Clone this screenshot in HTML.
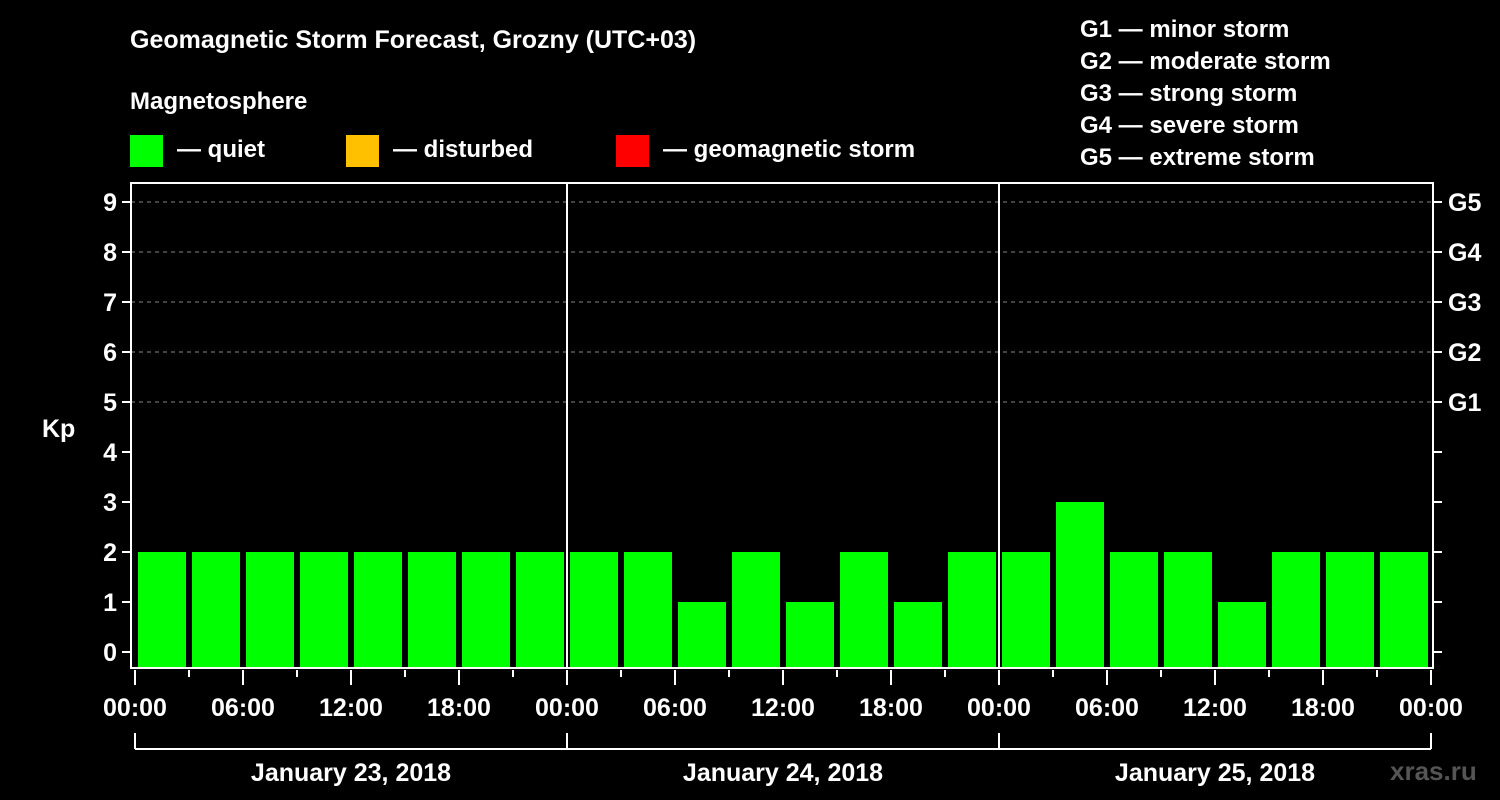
<!DOCTYPE html>
<html><head><meta charset="utf-8"><style>
html,body{margin:0;padding:0;background:#000;}
svg{display:block;font-family:"Liberation Sans",Arial,sans-serif;font-weight:bold;}
</style></head><body>
<svg id="chart" width="1500" height="800" viewBox="0 0 1500 800">
<rect width="1500" height="800" fill="#000"/>
<text x="130" y="48" fill="#fff" font-size="25">Geomagnetic Storm Forecast, Grozny (UTC+03)</text>
<text x="130" y="109" fill="#fff" font-size="24">Magnetosphere</text>
<g><rect x="130" y="135" width="33" height="32" fill="#00ff00"/><text x="177" y="157" fill="#fff" font-size="24">— quiet</text></g>
<g><rect x="346" y="135" width="33" height="32" fill="#ffc000"/><text x="393" y="157" fill="#fff" font-size="24">— disturbed</text></g>
<g><rect x="616" y="135" width="33" height="32" fill="#ff0000"/><text x="663" y="157" fill="#fff" font-size="24">— geomagnetic storm</text></g>
<g fill="#fff" font-size="24">
<text x="1080" y="37">G1 — minor storm</text>
<text x="1080" y="69">G2 — moderate storm</text>
<text x="1080" y="101">G3 — strong storm</text>
<text x="1080" y="133">G4 — severe storm</text>
<text x="1080" y="165">G5 — extreme storm</text>
</g>
<g id="grid"></g>
<g id="bars"></g>
<g id="axes"></g>
<text x="1390" y="780" fill="#555" font-size="26">xras.ru</text>
</svg>
<script>
const kpValues=[2,2,2,2,2,2,2,2, 2,2,1,2,1,2,1,2, 2,3,2,2,1,2,2,2];
const yTicks=[0,1,2,3,4,5,6,7,8,9];
const gLabels=["G1","G2","G3","G4","G5"];
const xTickLabels=["00:00","06:00","12:00","18:00","00:00","06:00","12:00","18:00","00:00","06:00","12:00","18:00","00:00"];
const dayLabels=["January 23, 2018","January 24, 2018","January 25, 2018"];
const NS="http://www.w3.org/2000/svg";
const L=131,R=1433,T=183,B=668,X0=135,SLOT=54;
const y=v=>652-v*50;
const x=i=>X0+i*SLOT;
function mk(tag,attrs,parent){const e=document.createElementNS(NS,tag);for(const k in attrs)e.setAttribute(k,attrs[k]);parent.appendChild(e);return e;}
const grid=document.getElementById('grid'),bars=document.getElementById('bars'),axes=document.getElementById('axes');
for(let k=5;k<=9;k++){
  const l=mk('line',{x1:L,x2:R,y1:y(k),y2:y(k),stroke:'#888','stroke-dasharray':'4,4','stroke-width':1},grid);
  
  
}
kpValues.forEach((v,i)=>{
  const c=v>=5?'#ff0000':(v>=4?'#ffc000':'#00ff00');
  const r=mk('rect',{x:x(i)+3,y:y(v),width:48,height:B-1-y(v),fill:c},bars);
  
  
});
for(let d=1;d<3;d++){
  const l=mk('line',{x1:x(d*8),x2:x(d*8),y1:T,y2:B,stroke:'#fff','stroke-width':2},axes);
  
  
}
const fr=mk('rect',{x:L,y:T,width:R-L,height:B-T,fill:'none',stroke:'#fff','stroke-width':2},axes);


yTicks.forEach(v=>{
  mk('line',{x1:L-9,x2:L,y1:y(v),y2:y(v),stroke:'#fff','stroke-width':2},axes);
  mk('line',{x1:R,x2:R+9,y1:y(v),y2:y(v),stroke:'#fff','stroke-width':2},axes);
  const t=mk('text',{x:L-14,y:y(v)+9,fill:'#fff','font-size':25,'text-anchor':'end'},axes);
  t.textContent=v;
  
  
});
gLabels.forEach((g,i)=>{
  const t=mk('text',{x:R+15,y:y(i+5)+9,fill:'#fff','font-size':25},axes);
  t.textContent=g;
  
  
});
const yl=mk('text',{x:42,y:437,fill:'#fff','font-size':25},axes);
yl.textContent='Kp';


for(let i=0;i<=24;i++){
  const major=i%2===0;
  mk('line',{x1:x(i),x2:x(i),y1:B+2,y2:major?B+17:B+9,stroke:'#fff','stroke-width':2},axes);
}
xTickLabels.forEach((s,j)=>{
  const t=mk('text',{x:x(j*2),y:716,fill:'#fff','font-size':25,'text-anchor':'middle'},axes);
  t.textContent=s;
  
  
});
mk('line',{x1:x(0),x2:x(24),y1:749,y2:749,stroke:'#fff','stroke-width':2},axes);
for(let d=0;d<=3;d++) mk('line',{x1:x(d*8),x2:x(d*8),y1:733,y2:749,stroke:'#fff','stroke-width':2},axes);
dayLabels.forEach((s,d)=>{
  const t=mk('text',{x:x(d*8+4),y:781,fill:'#fff','font-size':25,'text-anchor':'middle'},axes);
  t.textContent=s;
  
  
});
</script>
</body></html>
